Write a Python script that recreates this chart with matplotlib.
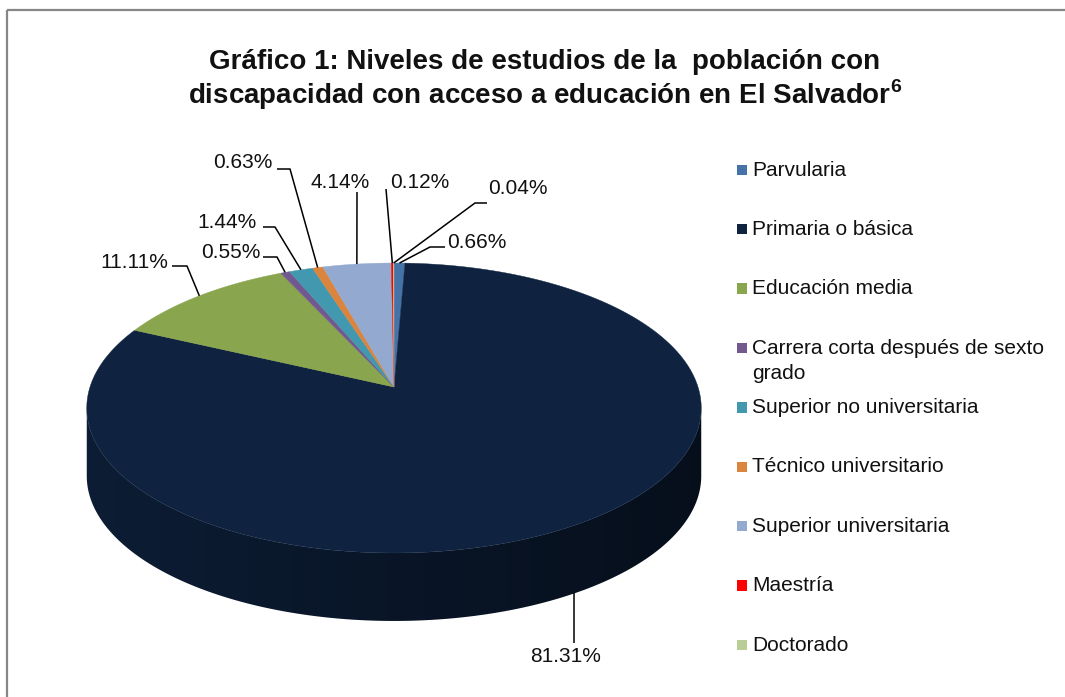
import numpy as np
import matplotlib
matplotlib.use("Agg")
import matplotlib.pyplot as plt
from matplotlib.patches import Polygon, Rectangle
import matplotlib.colors as mcolors

plt.rcParams['font.family'] = ['Liberation Sans', 'DejaVu Sans']
plt.rcParams['mathtext.fontset'] = 'custom'
plt.rcParams['mathtext.rm'] = 'Liberation Sans'
plt.rcParams['mathtext.bf'] = 'Liberation Sans:bold'

# ---------------- data ----------------
categories = ["Parvularia", "Primaria o básica", "Educación media",
              "Carrera corta después de sexto\ngrado", "Superior no universitaria",
              "Técnico universitario", "Superior universitaria", "Maestría", "Doctorado"]
values = [0.66, 81.31, 11.11, 0.55, 1.44, 0.63, 4.14, 0.12, 0.04]
value_labels = ["0.66%", "81.31%", "11.11%", "0.55%", "1.44%", "0.63%", "4.14%", "0.12%", "0.04%"]
colors = ["#4572A7", "#0F2340", "#89A54E", "#71588F", "#4198AF",
          "#DB843D", "#93A9CF", "#FF0000", "#B9CD96"]
title_line1 = "Gráfico 1: Niveles de estudios de la  población con"
title_line2 = "discapacidad con acceso a educación en El Salvador$^{\\mathbf{6}}$"

# ---------------- layout ----------------
W, H = 1065, 697
fig = plt.figure(figsize=(W / 100, H / 100), dpi=100)
ax = fig.add_axes([0, 0, 1, 1])
ax.axis('off')

CX, R = 394, 304
B, A, C = 387, 85.9, -0.1448
DEPTH = 68
VIS_LO, VIS_HI = -171.7, -8.3


def proj(theta_deg, depth=0.0):
    t = np.radians(theta_deg)
    u = np.cos(t)
    v = -np.sin(t)
    den = 1 + C * v
    return CX + R * u / den, (A * v + B) / den + depth


vals = np.array(values)
cum = np.concatenate([[0], np.cumsum(vals)]) / vals.sum() * 360.0
starts = 90 - cum[:-1]
ends = 90 - cum[1:]

# side walls (front visible part) with horizontal shading gradient
for i in range(len(vals)):
    lo = max(ends[i], VIS_LO)
    hi = min(starts[i], VIS_HI)
    if hi <= lo:
        continue
    arc = np.linspace(hi, lo, 200)
    top = [proj(a) for a in arc]
    bot = [proj(a, DEPTH) for a in arc[::-1]]
    poly = Polygon(top + bot, closed=True, facecolor='none', edgecolor='none')
    ax.add_patch(poly)
    xs = np.array([p[0] for p in top + bot])
    ys = np.array([p[1] for p in top + bot])
    x0, x1 = xs.min() - 2, xs.max() + 2
    y0, y1 = ys.min() - 2, ys.max() + 2
    base = np.array(mcolors.to_rgb(colors[i]))
    t = np.linspace(0, 1, 300)
    f = 0.82 - 0.40 * t
    grad = np.clip(base[None, :] * f[:, None], 0, 1)[None, :, :]
    im = ax.imshow(grad, extent=(x0, x1, y1, y0), aspect='auto',
                   interpolation='bilinear', zorder=2)
    im.set_clip_path(poly)

# top faces
for i in range(len(vals)):
    arc = np.linspace(starts[i], ends[i], max(3, int(abs(starts[i] - ends[i]) * 2)))
    pts = [(CX, B)] + [proj(a) for a in arc]
    ax.add_patch(Polygon(pts, closed=True, facecolor=colors[i],
                         edgecolor=colors[i], lw=0.3, zorder=3))

# data labels with leader lines
label_pos = [(447, 242, 'left'), (566, 656, 'center'), (168, 262, 'right'),
             (260, 253, 'right'), (257, 222, 'right'), (272, 163, 'right'),
             (340, 182, 'center'), (390, 183, 'left'), (488, 189, 'left')]
leader_pts = [[(445, 247), (430, 247)], [None], [(172, 266), (187, 266)],
              [(263, 257), (277, 257)], [(263, 227), (275, 227)], [(277, 169), (290, 169)],
              [(357, 192)], [(386, 189)], [(487, 203), (475, 203)]]
for i in range(len(vals)):
    mid = (starts[i] + ends[i]) / 2
    on_front = VIS_LO < mid < VIS_HI
    anchor = proj(mid, DEPTH if on_front else 0)
    lp = leader_pts[i]
    if lp == [None]:
        lp = [(anchor[0], 643)]
    pts = lp + [anchor]
    ax.plot([p[0] for p in pts], [p[1] for p in pts], color='black', lw=1.1,
            zorder=4, solid_capstyle='butt')
    x, y, ha = label_pos[i]
    ax.text(x, y, value_labels[i], ha=ha, va='center', fontsize=15, color='#111111', zorder=5)

# legend
leg_y0, leg_dy = 170, 59.4
for i, cat in enumerate(categories):
    y = leg_y0 + i * leg_dy
    ax.add_patch(Rectangle((736.5, y - 5.5), 10.5, 10.5, facecolor=colors[i],
                           edgecolor='none', zorder=5))
    lines = cat.split('\n')
    for k, line in enumerate(lines):
        ax.text(752, y + 25 * k, line, ha='left', va='center', fontsize=15, color='#111111')

# title
ax.text(545, 62, title_line1, ha='center', va='center', fontsize=20,
        fontweight='bold', color='#111111')
ax.text(545, 95, title_line2, ha='center', va='center', fontsize=20,
        fontweight='bold', color='#111111')

# chart border
ax.add_patch(Rectangle((6.5, 9.5), W + 20, H + 20, facecolor='none',
                       edgecolor='#878787', lw=1.6, zorder=1, clip_on=False))

ax.set_xlim(0, W)
ax.set_ylim(H, 0)
fig.savefig("out.png", dpi=100)
